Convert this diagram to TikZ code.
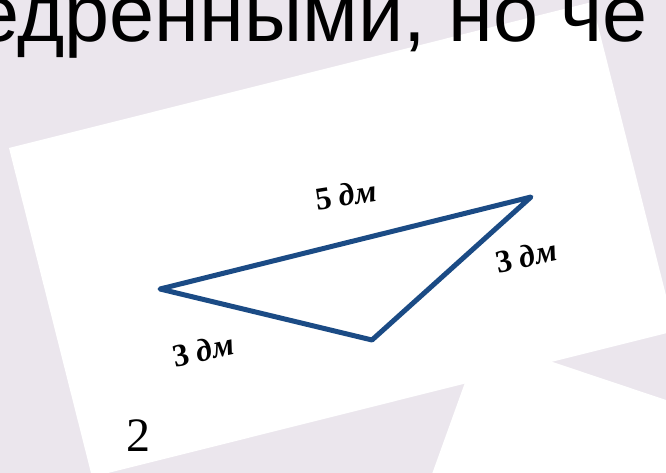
\documentclass[tikz,border=0pt]{standalone}
\usepackage{fontspec}
\setmainfont{Liberation Serif}
\newfontfamily\headfont{Liberation Sans}
\usetikzlibrary{positioning}
\definecolor{wallbg}{HTML}{EBE6ED}
\definecolor{sideblue}{HTML}{1B4B85}

\begin{document}
\begin{tikzpicture}[
  x=1pt,y=-1pt,
  side/.style={draw=sideblue,line width=5pt,line cap=round,line join=round},
  sidelabel/.style={font=\fontsize{32}{32}\selectfont\bfseries,inner sep=1pt},
  sheet/.style={fill=white,draw=none}
]
\useasboundingbox (0,0) rectangle (666,473);
\clip (0,0) rectangle (666,473);
\fill[wallbg] (0,0) rectangle (666,473);
% two sheets of paper
\fill[sheet] (481,338) -- (881,472) -- (773,772) -- (373,638) -- cycle;
\fill[sheet] (9,148) -- (592,2) -- (675,331) -- (92,477) -- cycle;
% cut-off heading
\node[anchor=base west,inner sep=0,font=\headfont\fontsize{81}{81}\selectfont] (head) at (-26,42) {едренными, но че};
% triangle
\coordinate (A) at (160,289);
\coordinate (B) at (531,197);
\coordinate (C) at (372,340);
\draw[side] (A) -- (B) -- (C) -- cycle;
\node[sidelabel,rotate=9] (labAB) at (346,195) {5 \textit{дм}};
\node[sidelabel,rotate=12] (labBC) at (526,256) {3 \textit{дм}};
\node[sidelabel,rotate=12] (labAC) at (203,350) {3 \textit{дм}};
\node[font=\fontsize{48}{48}\selectfont] (num) at (138,436) {2};
\end{tikzpicture}
\end{document}
